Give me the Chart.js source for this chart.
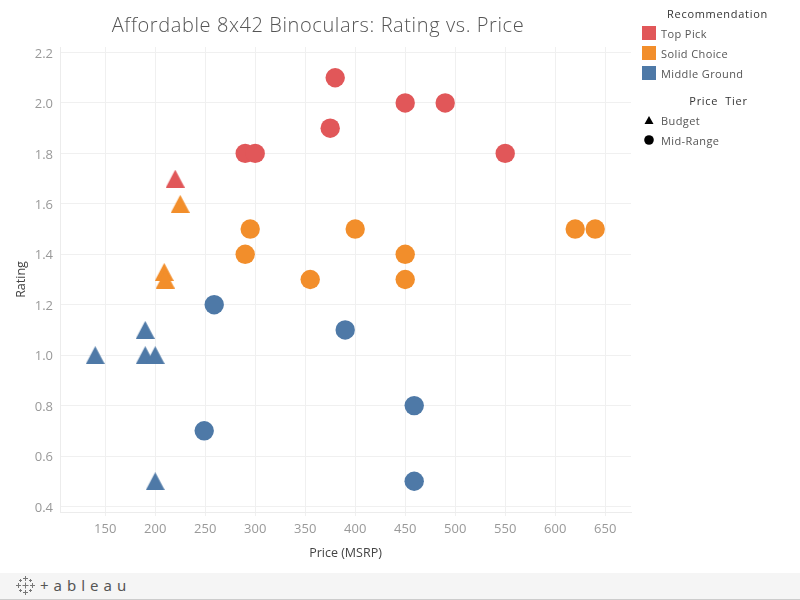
<!DOCTYPE html>
<html>
<head>
<meta charset="utf-8">
<title>Affordable 8x42 Binoculars</title>
<script src="https://cdn.jsdelivr.net/npm/chart.js@4"></script>
<style>
  html, body { margin: 0; padding: 0; background: #fff; }
  body { width: 800px; height: 600px; position: relative; overflow: hidden; font-family: "Open Sans", sans-serif; }
  #wrap { position: absolute; left: 0; top: 0; width: 800px; height: 573px; }
  .txt { position: absolute; white-space: nowrap; line-height: 1; }
  #title { left: 0; width: 636px; top: 15px; text-align: center; font-size: 20px; color: #555; font-weight: 300; letter-spacing: 0.6px; }
  .legTitle { color: #333; font-size: 11px; left: 642px; width: 151px; text-align: center; letter-spacing: 0.7px; }
  .legItem { color: #555; font-size: 11px; left: 661px; letter-spacing: 0.4px; }
  .swatch { position: absolute; left: 642px; width: 14px; height: 14px; }
  #footer { position: absolute; left: 0; top: 573px; width: 800px; height: 26px; background: #f5f5f5; border-bottom: 1px solid #ccc; }
  #logo { position: absolute; left: 40px; top: 5px; font-size: 15px; color: #555; letter-spacing: 5px; line-height: 1; font-family: "Noto Sans", sans-serif; }
</style>
</head>
<body>
<div id="wrap"><canvas id="chart" width="800" height="573"></canvas></div>
<div id="title" class="txt">Affordable 8x42 Binoculars: Rating vs. Price</div>

<div class="txt legTitle" style="top:8px">Recommendation</div>
<div class="swatch" style="top:26px;background:#e15759"></div>
<div class="txt legItem" style="top:28px">Top Pick</div>
<div class="swatch" style="top:46px;background:#f28e2b"></div>
<div class="txt legItem" style="top:48px">Solid Choice</div>
<div class="swatch" style="top:66px;background:#4e79a7"></div>
<div class="txt legItem" style="top:68px">Middle Ground</div>
<div class="txt legTitle" style="top:95px;width:153px">Price&nbsp; Tier</div>
<svg style="position:absolute;left:644px;top:115px" width="10" height="10"><polygon points="5,1 9.5,9 0.5,9" fill="#000"/></svg>
<div class="txt legItem" style="top:115px">Budget</div>
<svg style="position:absolute;left:644px;top:135px" width="10" height="10"><circle cx="5" cy="5" r="4.8" fill="#000"/></svg>
<div class="txt legItem" style="top:135px">Mid-Range</div>

<div id="footer">
  <svg style="position:absolute;left:16px;top:3px" width="19" height="19" stroke="#777" stroke-width="1" fill="none">
    <path d="M9.5 0v5M7 2.5h5M9.5 14v5M7 16.5h5M2.5 7v5M0 9.5h5M16.5 7v5M14 9.5h5M9.5 6.5v6M6.5 9.5h6M4.5 3v3M3 4.5h3M14.5 3v3M13 4.5h3M4.5 13v3M3 14.5h3M14.5 13v3M13 14.5h3"/>
  </svg>
  <div id="logo" class="txt">+ableau</div>
</div>

<script>
const red = "#e15759";
const orange = "#f28e2b";
const blue = "#4e79a7";

// budget models (triangles)
const budgetTopPrice = [220];
const budgetTopRating = [1.7];
const budgetSolidPrice = [225, 209, 210];
const budgetSolidRating = [1.6, 1.33, 1.3];
const budgetMiddlePrice = [140, 190, 190, 200, 200];
const budgetMiddleRating = [1.0, 1.1, 1.0, 1.0, 0.5];

// mid-range models (circles)
const midTopPrice = [380, 450, 490, 375, 290, 300, 550];
const midTopRating = [2.1, 2.0, 2.0, 1.9, 1.8, 1.8, 1.8];
const midSolidPrice = [295, 290, 400, 355, 450, 450, 620, 640];
const midSolidRating = [1.5, 1.4, 1.5, 1.3, 1.4, 1.3, 1.5, 1.5];
const midMiddlePrice = [259, 390, 459, 249, 459];
const midMiddleRating = [1.2, 1.1, 0.8, 0.7, 0.5];

function pairs(xs, ys) {
  return xs.map((x, i) => ({ x: x, y: ys[i] }));
}

// triangle sprite, so the shape sits centred on its value like the original
function triangle(color) {
  const c = document.createElement("canvas");
  c.width = 19;
  c.height = 18;
  const g = c.getContext("2d");
  g.fillStyle = color;
  g.beginPath();
  g.moveTo(9.5, 0);
  g.lineTo(19, 18);
  g.lineTo(0, 18);
  g.closePath();
  g.fill();
  return c;
}

function triSet(label, xs, ys, color) {
  return { label: label, data: pairs(xs, ys), pointStyle: triangle(color), backgroundColor: color, borderColor: color };
}

function dotSet(label, xs, ys, color) {
  return { label: label, data: pairs(xs, ys), pointStyle: "circle", pointRadius: 9.7, pointHoverRadius: 9.7, pointBorderWidth: 0, backgroundColor: color, borderColor: color };
}

const tickFont = { family: "'Open Sans', sans-serif", size: 13 };
const titleFont = { family: "'Open Sans', sans-serif", size: 12.5 };

new Chart(document.getElementById("chart").getContext("2d"), {
  type: "scatter",
  data: {
    datasets: [
      dotSet("Middle Ground", midMiddlePrice, midMiddleRating, blue),
      dotSet("Solid Choice", midSolidPrice, midSolidRating, orange),
      dotSet("Top Pick", midTopPrice, midTopRating, red),
      triSet("Middle Ground", budgetMiddlePrice, budgetMiddleRating, blue),
      triSet("Solid Choice", budgetSolidPrice, budgetSolidRating, orange),
      triSet("Top Pick", budgetTopPrice, budgetTopRating, red)
    ]
  },
  options: {
    animation: false,
    responsive: false,
    layout: { padding: { left: 0, right: 169, top: 47, bottom: 0 } },
    plugins: { legend: { display: false }, title: { display: false }, tooltip: { enabled: false } },
    scales: {
      x: {
        type: "linear",
        min: 104.8,
        max: 675.8,
        afterFit: s => { s.height = 61; },
        grid: { color: "#f0f0f0", tickLength: 4, tickColor: "#f0f0f0" },
        border: { color: "#ececec" },
        ticks: { stepSize: 50, includeBounds: false, maxRotation: 0, color: "#999", font: tickFont, padding: 5 },
        title: { display: true, text: "Price (MSRP)", color: "#444", font: titleFont, padding: { top: 0, bottom: 12 } }
      },
      y: {
        type: "linear",
        min: 0.378,
        max: 2.222,
        afterFit: s => { s.width = 60; },
        grid: { color: "#f0f0f0", drawTicks: false },
        border: { color: "#ececec" },
        ticks: { stepSize: 0.2, includeBounds: false, color: "#999", font: tickFont, padding: 7, labelOffset: 1.5, callback: v => v.toFixed(1) },
        title: { display: true, text: "Rating", color: "#444", font: titleFont, padding: { top: 14, bottom: 0 } }
      }
    }
  }
});
</script>
</body>
</html>
